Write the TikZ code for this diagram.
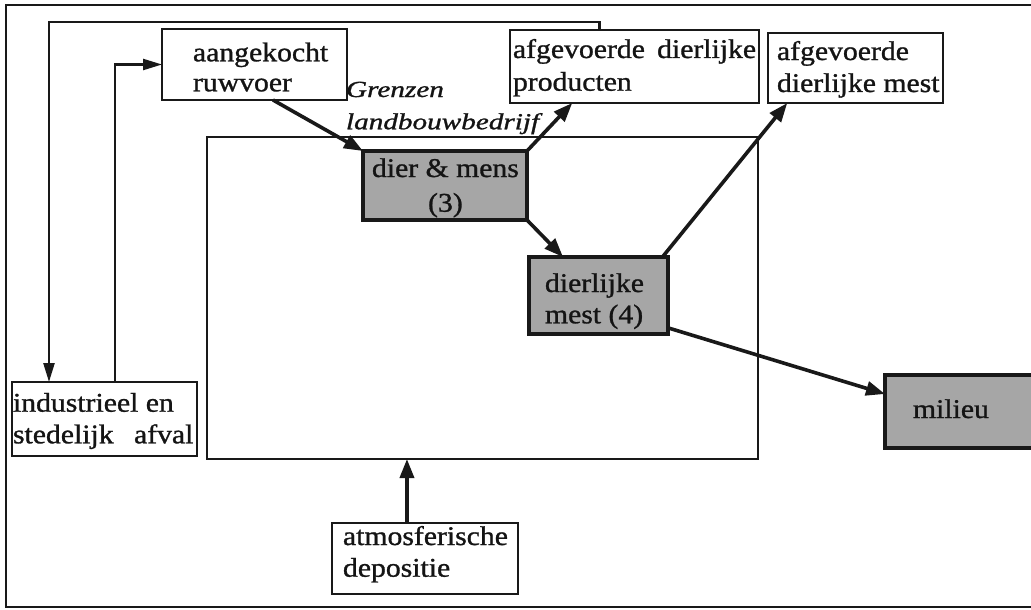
\documentclass[tikz,border=0pt]{standalone}
\usepackage{fontspec}
\setmainfont{Liberation Serif}[FakeBold=1]
\usepackage{graphicx}
\usetikzlibrary{arrows.meta,calc}

% horizontal stretch of all labels
\newcommand\sx{1.1}
% two-line label, first baseline = node baseline
\newcommand\twolab[4][l]{\scalebox{\sx}[1]{\fontsize{27}{#2}\selectfont\begin{tabular}[t]{@{}#1@{}}#3\\#4\end{tabular}}}
\newcommand\onelab[1]{\scalebox{\sx}[1]{\fontsize{27}{30}\selectfont #1}}

\begin{document}
\begin{tikzpicture}[x=1pt,y=-1pt,
  box/.style={draw=black!90, line width=2.6pt, rectangle, inner sep=0pt, outer sep=0pt, anchor=north west, fill=white},
  shaded/.style={box, line width=3.4pt, fill=black!35},
  txt/.style={inner sep=0pt, outer sep=0pt, anchor=base west, text=black!92},
  flow/.style={draw=black!90, line width=3.6pt, -{Triangle[length=19pt,width=14pt]}},
  loop/.style={draw=black!90, line width=2.4pt, -{Triangle[length=19pt,width=11pt]}}]

\path[use as bounding box] (0,0) rectangle (1031,610);
\clip (0,0) rectangle (1031,610);
\fill[white] (0,0) rectangle (1031,610);

% outer frame (runs past the right edge)
\draw[line width=2.6pt, black!90] (6,5) rectangle (1060,607);

% farm boundary
\node[box, fill=none, minimum width=551pt, minimum height=322pt] (farm) at (207,137) {};

% boxes
\node[box, minimum width=185pt, minimum height=71pt] (ruw) at (162,29) {};
\node[box, minimum width=249pt, minimum height=73pt] (prod) at (510,30) {};
\node[box, minimum width=175pt, minimum height=70pt] (amest) at (768,33) {};
\node[shaded, minimum width=164pt, minimum height=69pt] (dm) at (363,151) {};
\node[shaded, minimum width=139pt, minimum height=77pt] (mest) at (529,257) {};
\node[shaded, minimum width=170pt, minimum height=73pt] (mil) at (885,375) {};
\node[box, minimum width=185pt, minimum height=74pt] (ind) at (12,382) {};
\node[box, minimum width=186pt, minimum height=71pt] (atm) at (332,523) {};

% labels
\node[txt] (truw) at (193,61.3) {\twolab{30}{aangekocht}{ruwvoer}};
\node[txt] (tprod) at (513,58) {\twolab{32.7}{\makebox[221pt][l]{afgevoerde\hfill dierlijke}}{producten}};
\node[txt] (tamest) at (777,60) {\twolab{32}{afgevoerde}{dierlijke mest}};
\node[txt] (tdm) at (372,177) {\twolab[c]{34.7}{dier \& mens}{(3)}};
\node[txt] (tmest) at (545,292) {\twolab{31.3}{dierlijke}{mest (4)}};
\node[txt] (tmil) at (913,418) {\onelab{milieu}};
\node[txt] (tind) at (13,411.7) {\twolab{31.6}{industrieel en}{\makebox[164pt][l]{stedelijk\hfill afval}}};
\node[txt] (tatm) at (343,545) {\twolab{31.7}{atmosferische}{depositie}};
\node[txt] (tgr) at (346,97) {\scalebox{1.27}[1]{\fontsize{23}{32.3}\selectfont\itshape\begin{tabular}[t]{@{}l@{}}Grenzen\\landbouwbedrijf\end{tabular}}};

% flows
\draw[flow] ($(ruw.south west)!0.6!(ruw.south east)$) -- (dm.north west);
\draw[flow] (dm.north east) -- ($(prod.south west)!0.25!(prod.south east)$);
\draw[flow] (dm.south east) -- ($(mest.north west)!0.245!(mest.north east)$);
\draw[flow] ($(mest.north west)!0.96!(mest.north east)$) -- ($(amest.south west)!0.11!(amest.south east)$);
\draw[flow] ($(mest.north east)!0.92!(mest.south east)$) -- ($(mil.north west)!0.26!(mil.south west)$);
\coordinate (atmtop) at ($(atm.north west)!0.403!(atm.north east)$);
\draw[flow] (atmtop) -- (atmtop |- farm.south);

% recycling loops
\coordinate (loopy) at (0,22);
\coordinate (pout) at ($(prod.north west)!0.36!(prod.north east)$);
\coordinate (iin) at ($(ind.north west)!0.2!(ind.north east)$);
\draw[loop] (pout) -- (pout |- loopy) -- (iin |- loopy) -- (iin);
\coordinate (iout) at ($(ind.north west)!0.557!(ind.north east)$);
\draw[loop] (iout) |- (ruw.west);

\end{tikzpicture}
\end{document}
